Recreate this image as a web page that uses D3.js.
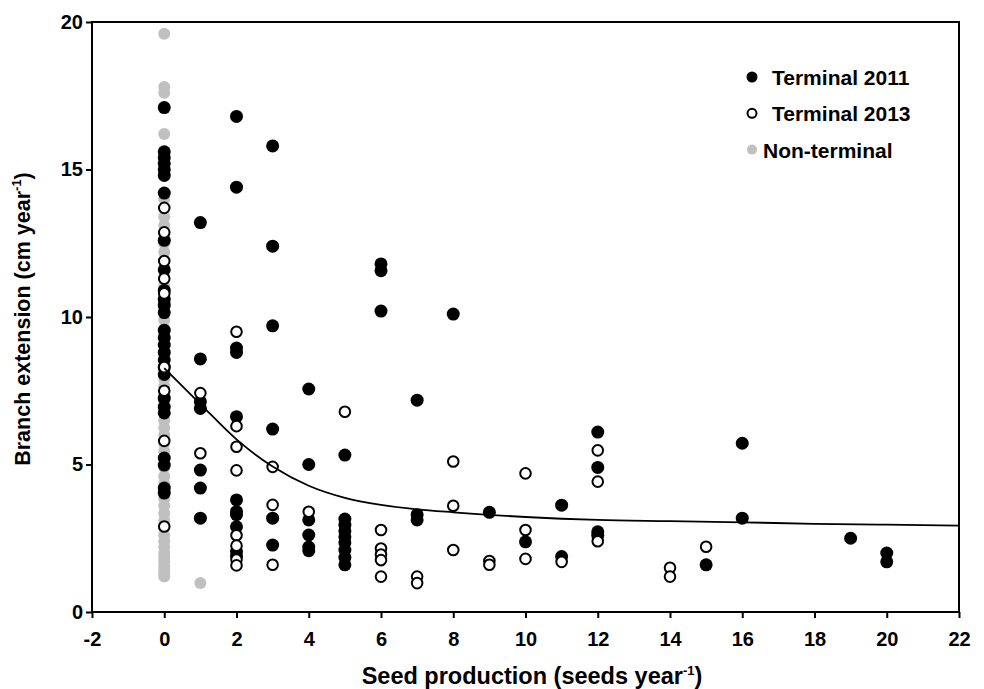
<!DOCTYPE html>
<html>
<head>
<meta charset="utf-8">
<script src="https://cdn.jsdelivr.net/npm/d3@7"></script>
<style>
  body { margin: 0; background: #fff; }
  text { font-family: "Liberation Sans", Arial, sans-serif; font-weight: bold; fill: #000; }
</style>
</head>
<body>
<svg id="chart" width="984" height="689"></svg>
<script>
// Terminal 2011 (filled black)
var t2011X = [0,0,0,0,0,0,0,0,0,0,0,0,0,0,0,0,0,0,0,0,0,0,0,0,0,0,0,
              1,1,1,1,1,1,1,
              2,2,2,2,2,2,2,2,2,2,2,
              3,3,3,3,3,3,
              4,4,4,4,4,4,
              5,5,5,5,5,5,5,5,5,
              6,6,6,
              7,7,7,
              8, 9, 10, 11,11,
              12,12,12,12,
              15, 16,16, 19, 20,20];
var t2011Y = [17.1,15.6,15.4,15.2,15.0,14.8,14.2,12.6,11.6,10.9,10.6,10.4,10.15,9.55,9.3,9.05,8.8,8.55,8.3,8.05,7.25,6.95,6.75,5.22,4.98,4.2,4.03,
              13.2,8.58,7.13,6.9,4.81,4.2,3.18,
              16.8,14.4,8.95,8.8,6.62,3.8,3.4,3.3,2.89,2.05,1.9,
              15.8,12.4,9.7,6.2,3.18,2.27,
              7.56,5.0,3.12,2.61,2.2,2.08,
              5.32,3.15,2.95,2.75,2.55,2.35,2.1,1.85,1.6,
              11.8,11.57,10.2,
              7.18,3.3,3.12,
              10.1, 3.38, 2.38, 3.62,1.88,
              6.1,4.9,2.72,2.6,
              1.6, 5.72,3.18, 2.5, 2.0,1.7];

// Terminal 2013 (open circles)
var t2013X = [0,0,0,0,0,0,0,0,0,
              1,1,
              2,2,2,2,2,2,2,2,
              3,3,3,
              4, 5,
              6,6,6,6,6,
              7,7,
              8,8,8,
              9,9,
              10,10,10,
              11,
              12,12,12,
              14,14, 15];
var t2013Y = [13.7,12.87,11.9,11.3,10.8,8.3,7.5,5.8,2.9,
              7.42,5.38,
              9.5,6.3,5.6,4.8,2.6,2.25,1.78,1.58,
              4.92,3.63,1.6,
              3.4, 6.79,
              2.78,2.15,1.95,1.76,1.2,
              1.2,0.98,
              5.1,3.6,2.1,
              1.73,1.6,
              4.7,2.78,1.8,
              1.7,
              5.48,4.42,2.4,
              1.5,1.2, 2.21];

// Non-terminal (grey)
var nonTermX = [0,0,0,0,0,0,0,0,0,0,0,0,0,0,0,0,0,0,0,0,0,0,0,0,0,0,0,0,0,0,
                0,0,0,0,0,0,0,0,0,0,0,0,0,0,0,0,0,0,0,0,0,0,0,0, 1];
var nonTermY = [19.6,17.8,17.6,16.2,14.0,13.4,13.1,12.8,12.5,12.2,11.9,11.6,11.35,11.05,10.8,10.5,10.2,9.9,9.6,9.35,9.1,8.8,8.5,8.2,7.9,7.65,7.4,7.1,6.8,6.5,
                6.25,6.0,5.7,5.45,5.2,4.9,4.6,4.35,4.1,3.85,3.6,3.35,3.1,2.85,2.6,2.4,2.2,2.0,1.85,1.7,1.55,1.4,1.3,1.2, 0.98];

// fitted curve
var fitX = [0,1,2,3,4,5,6,7,8,10,12,14,16,18,20,22];
var fitY = [8.27,7.05,5.85,4.93,4.28,3.87,3.63,3.48,3.38,3.22,3.12,3.08,3.04,2.99,2.96,2.93];

var xTicks = [-2,0,2,4,6,8,10,12,14,16,18,20,22];
var yTicks = [0,5,10,15,20];

var legendItems = [
  {label: "Terminal 2011", key: "t2011"},
  {label: "Terminal 2013", key: "t2013"},
  {label: "Non-terminal", key: "non"}
];

var margin = {top: 22, right: 25, bottom: 77, left: 92};
var W = 984, H = 689;
var iw = W - margin.left - margin.right;
var ih = H - margin.top - margin.bottom;

var svg = d3.select("#chart");
var g = svg.append("g").attr("transform", "translate(" + margin.left + "," + margin.top + ")");

var x = d3.scaleLinear().domain([-2, 22]).range([0, iw]);
var y = d3.scaleLinear().domain([0, 20]).range([ih, 0]);

// axes (plain hyphen for negatives, like the original)
var fmt = function(d) { return String(d); };
var xAxis = g.append("g").attr("transform", "translate(0," + ih + ")")
  .call(d3.axisBottom(x).tickValues(xTicks).tickSize(6).tickSizeOuter(0).tickPadding(14).tickFormat(fmt));
var yAxis = g.append("g")
  .call(d3.axisLeft(y).tickValues(yTicks).tickSize(6).tickSizeOuter(0).tickPadding(3).tickFormat(fmt));
[xAxis, yAxis].forEach(function(a) {
  a.select(".domain").remove();
  a.selectAll(".tick line").attr("stroke", "#000").attr("stroke-width", 2);
  a.selectAll(".tick text").attr("font-size", 20).attr("font-family", null);
});

// frame
g.append("rect").attr("x", 0).attr("y", 0).attr("width", iw).attr("height", ih)
  .attr("fill", "none").attr("stroke", "#000").attr("stroke-width", 2);

// points
var grey = nonTermX.map(function(d, i) { return [d, nonTermY[i]]; });
var black = t2011X.map(function(d, i) { return [d, t2011Y[i]]; });
var open = t2013X.map(function(d, i) { return [d, t2013Y[i]]; });

g.append("g").selectAll("circle").data(grey).enter().append("circle")
  .attr("cx", function(d) { return x(d[0]); }).attr("cy", function(d) { return y(d[1]); })
  .attr("r", 6).attr("fill", "#c0c0c0");

g.append("g").selectAll("circle").data(black).enter().append("circle")
  .attr("cx", function(d) { return x(d[0]); }).attr("cy", function(d) { return y(d[1]); })
  .attr("r", 6.5).attr("fill", "#000");

g.append("g").selectAll("circle").data(open).enter().append("circle")
  .attr("cx", function(d) { return x(d[0]); }).attr("cy", function(d) { return y(d[1]); })
  .attr("r", 5.3).attr("fill", "#fff").attr("stroke", "#000").attr("stroke-width", 2);

// fitted line
var line = d3.line().x(function(d) { return x(d[0]); }).y(function(d) { return y(d[1]); }).curve(d3.curveMonotoneX);
g.append("path").datum(fitX.map(function(d, i) { return [d, fitY[i]]; }))
  .attr("d", line).attr("fill", "none").attr("stroke", "#000").attr("stroke-width", 1.8);

// legend
var lg = svg.append("g").attr("transform", "translate(752,77)");
legendItems.forEach(function(it, i) {
  var row = lg.append("g").attr("transform", "translate(0," + (i * 36.3) + ")");
  if (it.key == "t2011") row.append("circle").attr("r", 5.5).attr("fill", "#000");
  if (it.key == "t2013") row.append("circle").attr("r", 4.5).attr("fill", "#fff").attr("stroke", "#000").attr("stroke-width", 2);
  if (it.key == "non") row.append("circle").attr("r", 5).attr("fill", "#c0c0c0");
  row.append("text").attr("x", it.key == "non" ? 11 : 20).attr("y", 8).attr("font-size", 21).text(it.label);
});

// axis titles
var xt = svg.append("text").attr("x", 532).attr("y", 684).attr("text-anchor", "middle").attr("font-size", 23.5);
xt.append("tspan").text("Seed production (seeds year");
xt.append("tspan").attr("dy", -9).attr("font-size", 13).text("-1");
xt.append("tspan").attr("dy", 9).text(")");

var yt = svg.append("text").attr("transform", "translate(30," + (margin.top + ih / 2 + 2) + ") rotate(-90)")
  .attr("text-anchor", "middle").attr("font-size", 21.5);
yt.append("tspan").text("Branch extension (cm year");
yt.append("tspan").attr("dy", -9).attr("font-size", 13).text("-1");
yt.append("tspan").attr("dy", 9).text(")");
</script>
</body>
</html>
